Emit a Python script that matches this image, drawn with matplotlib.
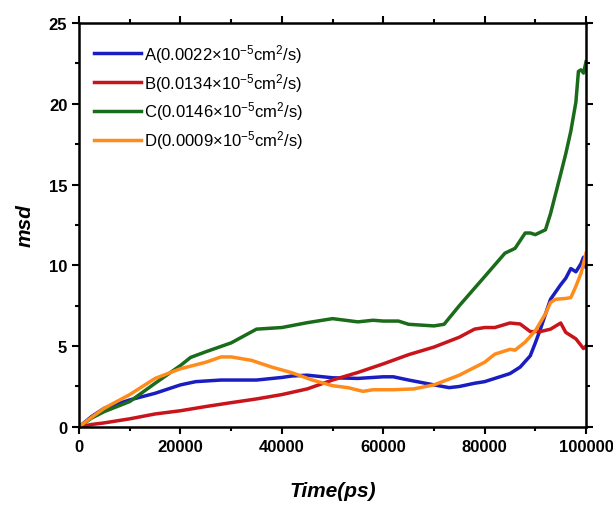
import matplotlib
matplotlib.use("Agg")
import matplotlib.pyplot as plt
from matplotlib.ticker import MultipleLocator

plt.rcParams['font.family'] = ['Liberation Sans', 'DejaVu Sans']
plt.rcParams['mathtext.fontset'] = 'custom'
plt.rcParams['mathtext.rm'] = 'Liberation Sans'
plt.rcParams['mathtext.it'] = 'Liberation Sans:italic'
plt.rcParams['mathtext.bf'] = 'Liberation Sans:bold'

t_A = [0, 2500, 5000, 10000, 15000, 20000, 23000, 28000, 35000, 40000, 42000, 45000, 50000, 55000,
       60000, 62000, 65000, 70000, 73000, 75000, 78000, 80000, 82000, 85000, 87000, 89000, 90000,
       91000, 92000, 93000, 95000, 96000, 97000, 98000, 99000, 99500, 100000]
msd_A = [0, 0.65, 1.16, 1.67, 2.08, 2.6, 2.8, 2.9, 2.9, 3.06, 3.15, 3.2, 3.04, 3.0,
         3.1, 3.1, 2.9, 2.6, 2.43, 2.5, 2.7, 2.8, 3.0, 3.3, 3.7, 4.4, 5.2,
         6.05, 6.98, 7.9, 8.8, 9.2, 9.8, 9.6, 10.1, 10.5, 9.9]

t_B = [0, 2500, 5000, 10000, 15000, 20000, 25000, 30000, 35000, 40000, 45000, 50000, 55000,
       60000, 65000, 70000, 75000, 78000, 80000, 82000, 85000, 87000, 89000, 91000, 93000,
       95000, 96000, 98000, 99500, 100000]
msd_B = [0, 0.15, 0.25, 0.5, 0.8, 1.0, 1.26, 1.5, 1.73, 2.0, 2.35, 2.9, 3.37,
         3.9, 4.47, 4.94, 5.55, 6.05, 6.15, 6.15, 6.43, 6.37, 5.9, 5.9, 6.05,
         6.43, 5.85, 5.45, 4.85, 5.0]

t_C = [0, 2500, 5000, 10000, 15000, 20000, 22000, 25000, 30000, 35000, 40000, 45000, 50000, 55000,
       58000, 60000, 63000, 65000, 70000, 72000, 75000, 80000, 84000, 86000, 88000, 89000,
       90000, 92000, 93000, 95000, 96000, 97000, 98000, 98500, 99000, 99500, 100000]
msd_C = [0, 0.55, 0.95, 1.57, 2.7, 3.8, 4.3, 4.65, 5.2, 6.05, 6.15, 6.45, 6.7, 6.5,
         6.6, 6.55, 6.55, 6.35, 6.25, 6.35, 7.5, 9.3, 10.75, 11.05, 12.0, 12.0,
         11.9, 12.2, 13.2, 15.65, 16.9, 18.3, 20.1, 22.0, 22.1, 21.9, 22.6]

t_D = [0, 2500, 5000, 10000, 15000, 20000, 25000, 28000, 30000, 34000, 38000, 42000, 46000, 50000,
       53000, 56000, 58000, 62000, 66000, 70000, 75000, 80000, 82000, 85000, 86000, 88000,
       90000, 92000, 93000, 94000, 96000, 97000, 98000, 99000, 99500, 100000]
msd_D = [0, 0.6, 1.16, 2.0, 3.0, 3.6, 4.0, 4.33, 4.33, 4.12, 3.7, 3.35, 2.9, 2.55,
         2.43, 2.2, 2.3, 2.3, 2.35, 2.6, 3.2, 4.0, 4.5, 4.8, 4.75, 5.25,
         5.95, 7.0, 7.7, 7.9, 7.95, 8.0, 8.7, 9.5, 10.1, 10.75]

labels = [r'A(0.0022×10$^{-5}$cm$^{2}$/s)',
          r'B(0.0134×10$^{-5}$cm$^{2}$/s)',
          r'C(0.0146×10$^{-5}$cm$^{2}$/s)',
          r'D(0.0009×10$^{-5}$cm$^{2}$/s)']
colors = ['#1a1ec0', '#c8141a', '#1a6b1a', '#ff8c1a']

fig = plt.figure(figsize=(6.13, 5.10), dpi=100)
ax = fig.add_axes([0.129, 0.161, 0.827, 0.792])

series = [(t_A, msd_A), (t_B, msd_B), (t_C, msd_C), (t_D, msd_D)]
for (t, m), lab, c in zip(series, labels, colors):
    ax.plot(t, m, color=c, lw=2.5, label=lab)

ax.set_xlim(0, 100000)
ax.set_ylim(0, 25)
ax.xaxis.set_major_locator(MultipleLocator(20000))
ax.xaxis.set_minor_locator(MultipleLocator(10000))
ax.yaxis.set_major_locator(MultipleLocator(5))
ax.yaxis.set_minor_locator(MultipleLocator(2.5))
ax.tick_params(which='both', direction='out', top=True, right=True, width=1.5)
ax.tick_params(which='major', length=5, labelsize=12)
ax.tick_params(which='minor', length=3)
ax.tick_params(labeltop=False, labelright=False)
for lbl in ax.get_xticklabels() + ax.get_yticklabels():
    lbl.set_fontweight('bold')
for s in ax.spines.values():
    s.set_linewidth(1.8)

ax.set_xlabel('Time(ps)', fontsize=15, fontweight='bold', style='italic', labelpad=20)
ax.set_ylabel('msd', fontsize=15, fontweight='bold', style='italic', labelpad=10)

leg = ax.legend(loc='upper left', bbox_to_anchor=(0.0, 0.99), frameon=False,
                fontsize=12, handlelength=2.8, handletextpad=0.2, labelspacing=0.35)

fig.savefig('out.png', dpi=100)
